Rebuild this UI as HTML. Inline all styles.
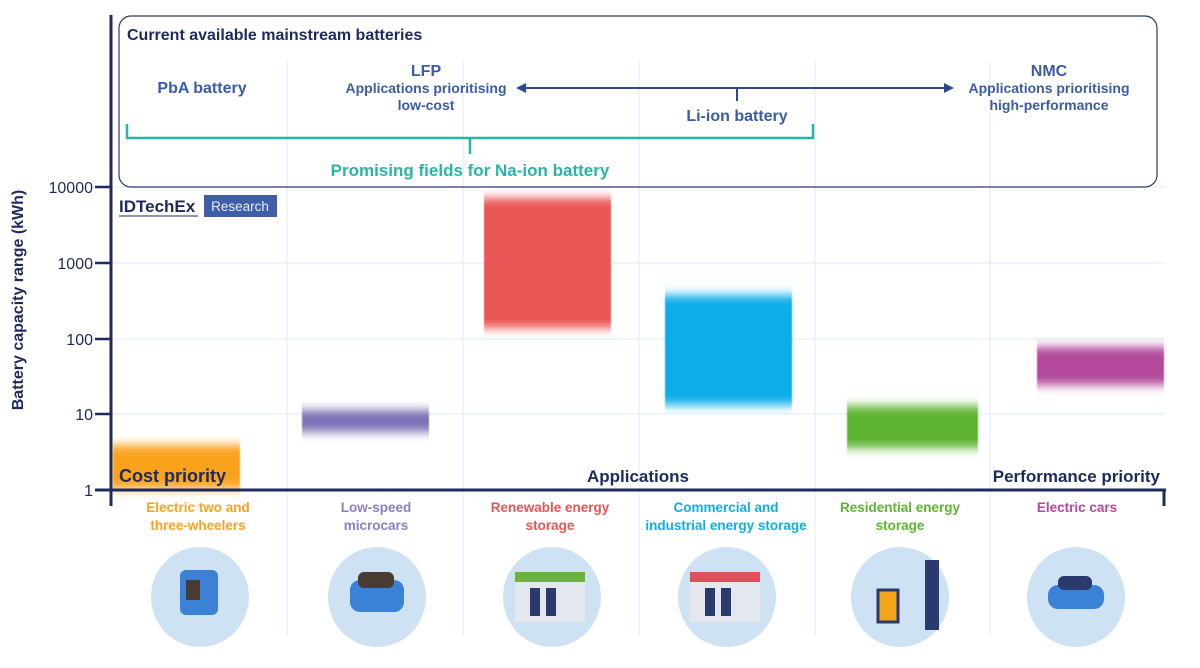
<!DOCTYPE html>
<html><head><meta charset="utf-8"><style>
body{margin:0;background:#fff;width:1200px;height:663px;overflow:hidden}
text{font-family:"Liberation Sans",sans-serif}
</style></head><body>
<svg width="1200" height="663" viewBox="0 0 1200 663" xmlns="http://www.w3.org/2000/svg">
<defs>
<filter id="b" x="-10%" y="-50%" width="120%" height="200%"><feGaussianBlur stdDeviation="0.5 5"/></filter>
</defs>
<g stroke="#dbe9f7" stroke-width="1">
<line x1="111" y1="187" x2="1165" y2="187"/><line x1="111" y1="263" x2="1165" y2="263"/>
<line x1="111" y1="339" x2="1165" y2="339"/><line x1="111" y1="414" x2="1165" y2="414"/>
<line x1="287" y1="62" x2="287" y2="635"/><line x1="463" y1="62" x2="463" y2="635"/>
<line x1="639" y1="62" x2="639" y2="635"/><line x1="815" y1="62" x2="815" y2="635"/>
<line x1="990" y1="62" x2="990" y2="635"/>
</g>
<rect x="119" y="16" width="1038" height="171" rx="12" fill="none" stroke="#2b3a6e" stroke-width="1.2"/>
<text x="127" y="40" font-size="16" font-weight="bold" fill="#1f2a5c">Current available mainstream batteries</text>
<text x="202" y="93" font-size="16" font-weight="bold" fill="#3a5ba5" text-anchor="middle">PbA battery</text>
<text x="426" y="76" font-size="16" font-weight="bold" fill="#3a5ba5" text-anchor="middle">LFP</text>
<text x="426" y="93" font-size="14" font-weight="bold" fill="#3a5ba5" text-anchor="middle">Applications prioritising</text>
<text x="426" y="110" font-size="14" font-weight="bold" fill="#3a5ba5" text-anchor="middle">low-cost</text>
<text x="1049" y="76" font-size="16" font-weight="bold" fill="#3a5ba5" text-anchor="middle">NMC</text>
<text x="1049" y="93" font-size="14" font-weight="bold" fill="#3a5ba5" text-anchor="middle">Applications prioritising</text>
<text x="1049" y="110" font-size="14" font-weight="bold" fill="#3a5ba5" text-anchor="middle">high-performance</text>
<line x1="522" y1="88" x2="948" y2="88" stroke="#2b4a92" stroke-width="2"/>
<polygon points="516,88 526,83 526,93" fill="#2b4a92"/><polygon points="954,88 944,83 944,93" fill="#2b4a92"/>
<line x1="737" y1="88" x2="737" y2="101" stroke="#2b4a92" stroke-width="2"/>
<text x="737" y="121" font-size="16" font-weight="bold" fill="#3a5ba5" text-anchor="middle">Li-ion battery</text>
<polyline points="127,124 127,138 813,138 813,124" fill="none" stroke="#29b5a5" stroke-width="2.5"/>
<line x1="470" y1="138" x2="470" y2="154" stroke="#29b5a5" stroke-width="2.5"/>
<text x="470" y="176" font-size="17" font-weight="bold" fill="#29b5a5" text-anchor="middle">Promising fields for Na-ion battery</text>
<text x="119" y="212" font-size="17" font-weight="bold" fill="#1f2a5c">IDTechEx</text>
<line x1="119" y1="216" x2="198" y2="216" stroke="#1f2a5c"/>
<rect x="204" y="195" width="73" height="22" fill="#3f5ea8"/>
<text x="240" y="211" font-size="13.5" fill="#e8eef8" text-anchor="middle">Research</text>
<g filter="url(#b)">
<rect x="113" y="445" width="127" height="44" fill="#fba21d"/>
<rect x="302" y="410" width="127" height="22" fill="#7c72b6"/>
<rect x="484" y="198" width="127" height="130" fill="#ea5455"/>
<rect x="665" y="295" width="127" height="110" fill="#10aee8"/>
<rect x="847" y="406" width="131" height="42" fill="#5db431"/>
<rect x="1037" y="347" width="127" height="38" fill="#b4489b"/>
</g>
<line x1="111" y1="15" x2="111" y2="506" stroke="#1f2a5c" stroke-width="3"/>
<line x1="95" y1="490" x2="1166" y2="490" stroke="#1f2a5c" stroke-width="3"/>
<line x1="1164" y1="490" x2="1164" y2="506" stroke="#1f2a5c" stroke-width="3"/>
<g stroke="#1f2a5c" stroke-width="2.5">
<line x1="95" y1="187" x2="111" y2="187"/><line x1="95" y1="263" x2="111" y2="263"/>
<line x1="95" y1="339" x2="111" y2="339"/><line x1="95" y1="414" x2="111" y2="414"/>
</g>
<g font-size="16" fill="#1f2a5c" text-anchor="end">
<text x="93" y="193">10000</text><text x="93" y="269">1000</text><text x="93" y="345">100</text>
<text x="93" y="420">10</text><text x="93" y="496">1</text>
</g>
<text transform="translate(23,300) rotate(-90)" font-size="16" font-weight="bold" fill="#1f2a5c" text-anchor="middle">Battery capacity range (kWh)</text>
<text x="119" y="482" font-size="18" font-weight="bold" fill="#1f2a5c">Cost priority</text>
<text x="638" y="482" font-size="17" font-weight="bold" fill="#1f2a5c" text-anchor="middle">Applications</text>
<text x="1160" y="482" font-size="17" font-weight="bold" fill="#1f2a5c" text-anchor="end">Performance priority</text>
<g font-size="13.5" font-weight="bold" text-anchor="middle">
<text x="198" y="512" fill="#fba21d">Electric two and</text><text x="198" y="530" fill="#fba21d">three-wheelers</text>
<text x="376" y="512" fill="#8a80c0">Low-speed</text><text x="376" y="530" fill="#8a80c0">microcars</text>
<text x="550" y="512" fill="#ea5455">Renewable energy</text><text x="550" y="530" fill="#ea5455">storage</text>
<text x="726" y="512" fill="#10aee8">Commercial and</text><text x="726" y="530" fill="#10aee8">industrial energy storage</text>
<text x="900" y="512" fill="#5db431">Residential energy</text><text x="900" y="530" fill="#5db431">storage</text>
<text x="1077" y="512" fill="#b4489b">Electric cars</text>
</g>
<g fill="#cfe2f3">
<ellipse cx="200" cy="597" rx="49" ry="50"/><ellipse cx="377" cy="597" rx="49" ry="50"/>
<ellipse cx="552" cy="597" rx="49" ry="50"/><ellipse cx="727" cy="597" rx="49" ry="50"/>
<ellipse cx="900" cy="597" rx="49" ry="50"/><ellipse cx="1076" cy="597" rx="49" ry="50"/>
</g>
<rect x="180" y="570" width="38" height="45" rx="6" fill="#3b82d6"/><rect x="186" y="580" width="14" height="20" fill="#4a3b33"/>
<rect x="350" y="580" width="54" height="32" rx="10" fill="#3b82d6"/><rect x="358" y="572" width="36" height="16" rx="6" fill="#4a3b33"/>
<rect x="515" y="580" width="70" height="42" fill="#e4e8ee"/><rect x="515" y="572" width="70" height="10" fill="#6cb33f"/><rect x="530" y="588" width="10" height="28" fill="#2b3a6e"/><rect x="546" y="588" width="10" height="28" fill="#2b3a6e"/>
<rect x="690" y="580" width="70" height="42" fill="#e4e8ee"/><rect x="690" y="572" width="70" height="10" fill="#e0505a"/><rect x="705" y="588" width="10" height="28" fill="#2b3a6e"/><rect x="721" y="588" width="10" height="28" fill="#2b3a6e"/>
<rect x="878" y="590" width="20" height="32" fill="#f2a516" stroke="#2b3a6e" stroke-width="3"/><rect x="925" y="560" width="14" height="70" fill="#2b3a6e"/>
<rect x="1048" y="585" width="56" height="24" rx="10" fill="#3b82d6"/><rect x="1058" y="576" width="34" height="14" rx="6" fill="#2b3a6e"/>
</svg>
</body></html>
